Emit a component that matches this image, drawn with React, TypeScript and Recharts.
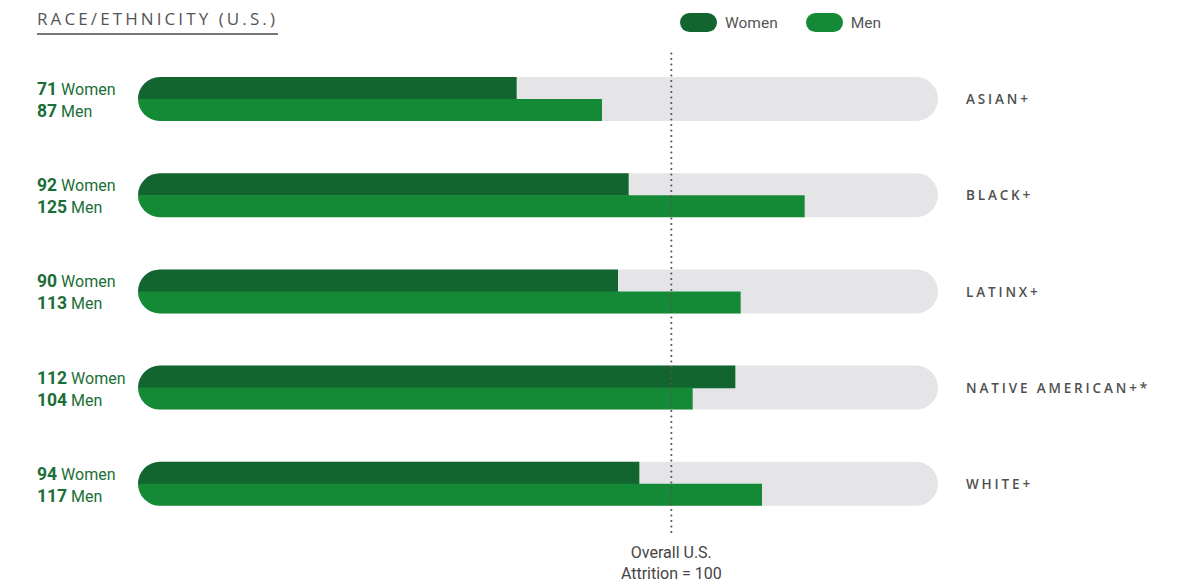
import React from "react";
import {
  BarChart,
  Bar,
  XAxis,
  YAxis,
  ReferenceLine,
  LabelList,
  Legend,
} from "recharts";

// Attrition index by race/ethnicity (overall U.S. = 100)
const groups = ["ASIAN+", "BLACK+", "LATINX+", "NATIVE AMERICAN+*", "WHITE+"];
const women = [71, 92, 90, 112, 94];
const men = [87, 125, 113, 104, 117];
const seriesNames = ["Women", "Men"];
const overall = 100;
const axisMax = 150;

const WOMEN_COLOR = "#13652f";
const MEN_COLOR = "#148a37";
const TRACK_COLOR = "#e5e5e8";
const LABEL_GREEN = "#1b6e37";
const FONT = "Roboto, 'Noto Sans', sans-serif";
const CAPS_FONT = "'Open Sans', sans-serif";

const data = groups.map((group, i) => ({
  group,
  women: women[i],
  men: men[i],
}));

// small overlap so the two halves of a row meet without a seam
const SEAM = 0.6;

// top half of the pill: both upper corners rounded with radius = height
const TopTrack = (props: any) => {
  const { x, y, width: w, height: h } = props;
  const r = h;
  return (
    <path
      d={`M${x},${y + h} A${r},${r} 0 0 1 ${x + r},${y} L${x + w - r},${y} A${r},${r} 0 0 1 ${x + w},${y + h} L${x + w},${y + h + SEAM} L${x},${y + h + SEAM} Z`}
      fill={TRACK_COLOR}
    />
  );
};

const BottomTrack = (props: any) => {
  const { x, y, width: w, height: h } = props;
  const r = h;
  return (
    <path
      d={`M${x},${y} L${x + w},${y} A${r},${r} 0 0 1 ${x + w - r},${y + h} L${x + r},${y + h} A${r},${r} 0 0 1 ${x},${y} Z`}
      fill={TRACK_COLOR}
    />
  );
};

const TopBar = (props: any) => {
  const { x, y, width: w, height: h, fill } = props;
  const r = h;
  return (
    <path
      d={`M${x},${y + h} A${r},${r} 0 0 1 ${x + r},${y} L${x + w},${y} L${x + w},${y + h + SEAM} L${x},${y + h + SEAM} Z`}
      fill={fill}
    />
  );
};

const BottomBar = (props: any) => {
  const { x, y, width: w, height: h, fill } = props;
  const r = h;
  return (
    <path
      d={`M${x},${y} L${x + w},${y} L${x + w},${y + h} L${x + r},${y + h} A${r},${r} 0 0 1 ${x},${y} Z`}
      fill={fill}
    />
  );
};

const sideLabel = (word: string) => (props: any) => {
  const { x, y, height, value } = props;
  return (
    <text
      x={x - 101}
      y={y + height / 2 + 1}
      dominantBaseline="central"
      fill={LABEL_GREEN}
      fontFamily={FONT}
    >
      <tspan fontSize={17.5} fontWeight={700}>
        {value}
      </tspan>
      <tspan fontSize={16} fontWeight={400}>
        {" " + word}
      </tspan>
    </text>
  );
};

const GroupTick = (props: any) => {
  const { x, y, payload } = props;
  return (
    <text
      x={x}
      y={y}
      dominantBaseline="central"
      fill="#505050"
      fontSize={13.5}
      letterSpacing={2.85}
      fontFamily={CAPS_FONT}
      fontWeight={600}
    >
      {payload.value}
    </text>
  );
};

const OverallLabel = (props: any) => {
  const { viewBox } = props;
  const cx = viewBox.x;
  const bottom = viewBox.y + viewBox.height;
  return (
    <g fill="#444" fontSize={16} fontFamily={FONT} textAnchor="middle">
      <text x={cx} y={bottom + 26}>
        Overall U.S.
      </text>
      <text x={cx} y={bottom + 47}>
        Attrition = {overall}
      </text>
    </g>
  );
};

const LegendPills = (props: any) => {
  const { payload } = props;
  const entries = seriesNames
    .map((name) => payload.find((p: any) => p.value === name))
    .filter(Boolean);
  return (
    <div style={{ display: "flex", alignItems: "center", fontFamily: FONT }}>
      {entries.map((entry: any) => (
        <div
          key={entry.value}
          style={{ display: "flex", alignItems: "center", marginRight: 28 }}
        >
          <span
            style={{
              width: 37,
              height: 19,
              borderRadius: 10,
              background: entry.color,
              display: "inline-block",
              marginRight: 8,
            }}
          />
          <span style={{ fontSize: 15.5, color: "#555" }}>{entry.value}</span>
        </div>
      ))}
    </div>
  );
};

export default function App() {
  return (
    <div
      style={{
        position: "relative",
        width: 1179,
        height: 583,
        margin: "-8px -8px 0 -8px",
        background: "#fff",
        fontFamily: FONT,
      }}
    >
      <div
        style={{
          position: "absolute",
          left: 37,
          top: 8,
          fontFamily: CAPS_FONT,
          fontSize: 17,
          letterSpacing: 3.1,
          color: "#555",
          paddingBottom: 3,
          borderBottom: "2px solid #777",
          lineHeight: "22px",
        }}
      >
        RACE/ETHNICITY (U.S.)
      </div>
      <BarChart
        width={1179}
        height={583}
        data={data}
        layout="vertical"
        margin={{ top: 51, right: 0, bottom: 51, left: 138 }}
        barSize={22}
        barGap={0}
        style={{ overflow: "visible" }}
      >
        <XAxis type="number" domain={[0, axisMax]} hide />
        <YAxis
          type="category"
          dataKey="group"
          orientation="right"
          width={241}
          axisLine={false}
          tickLine={false}
          tickSize={0}
          tickMargin={28}
          tick={<GroupTick />}
        />
        <Legend
          layout="horizontal"
          verticalAlign="middle"
          wrapperStyle={{ top: 13, left: 680, width: "auto" }}
          content={<LegendPills />}
        />
        <Bar
          dataKey="women"
          name="Women"
          fill={WOMEN_COLOR}
          background={TopTrack}
          shape={TopBar}
          isAnimationActive={false}
        >
          <LabelList dataKey="women" content={sideLabel("Women")} />
        </Bar>
        <Bar
          dataKey="men"
          name="Men"
          fill={MEN_COLOR}
          background={BottomTrack}
          shape={BottomBar}
          isAnimationActive={false}
        >
          <LabelList dataKey="men" content={sideLabel("Men")} />
        </Bar>
        <ReferenceLine
          x={overall}
          stroke="#555"
          strokeWidth={2.2}
          strokeDasharray="0 5.5"
          strokeLinecap="round"
          label={<OverallLabel />}
        />
      </BarChart>
    </div>
  );
}
